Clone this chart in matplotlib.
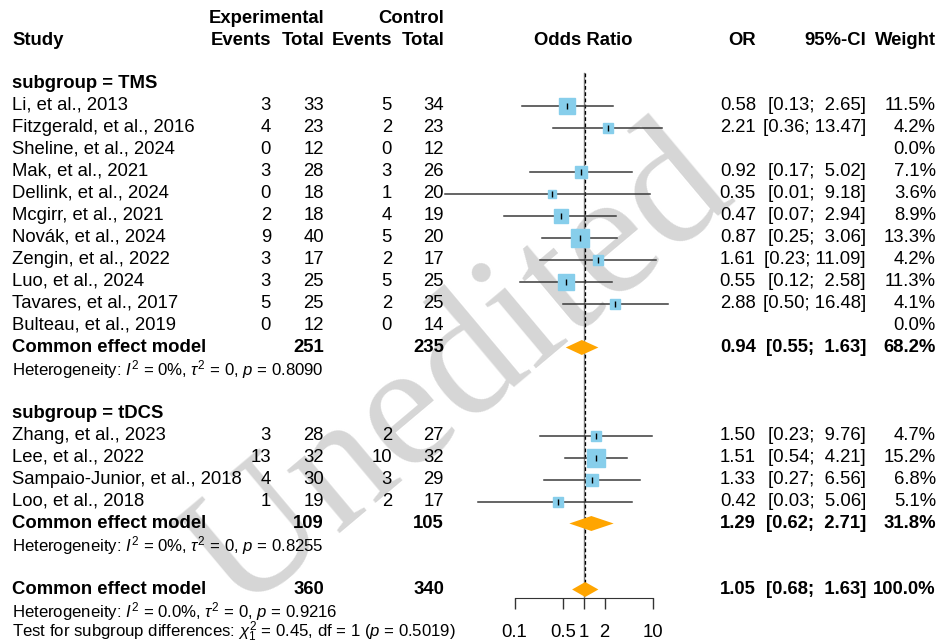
import numpy as np
import matplotlib
matplotlib.use("Agg")
import matplotlib.pyplot as plt
from matplotlib.ticker import NullLocator

plt.rcParams['font.family'] = 'Liberation Sans'
plt.rcParams['mathtext.fontset'] = 'custom'
plt.rcParams['mathtext.rm'] = 'Liberation Sans'
plt.rcParams['mathtext.it'] = 'Liberation Sans:italic'

# TMS studies
tms_study = ["Li, et al., 2013", "Fitzgerald, et al., 2016", "Sheline, et al., 2024",
             "Mak, et al., 2021", "Dellink, et al., 2024", "Mcgirr, et al., 2021",
             "Novák, et al., 2024", "Zengin, et al., 2022", "Luo, et al., 2024",
             "Tavares, et al., 2017", "Bulteau, et al., 2019"]
tms_exp_ev = [3, 4, 0, 3, 0, 2, 9, 3, 3, 5, 0]
tms_exp_n = [33, 23, 12, 28, 18, 18, 40, 17, 25, 25, 12]
tms_ctl_ev = [5, 2, 0, 3, 1, 4, 5, 2, 5, 2, 0]
tms_ctl_n = [34, 23, 12, 26, 20, 19, 20, 17, 25, 25, 14]
tms_or = [0.58, 2.21, np.nan, 0.92, 0.35, 0.47, 0.87, 1.61, 0.55, 2.88, np.nan]
tms_lo = [0.13, 0.36, np.nan, 0.17, 0.01, 0.07, 0.25, 0.23, 0.12, 0.50, np.nan]
tms_hi = [2.65, 13.47, np.nan, 5.02, 9.18, 2.94, 3.06, 11.09, 2.58, 16.48, np.nan]
tms_w = [11.5, 4.2, 0.0, 7.1, 3.6, 8.9, 13.3, 4.2, 11.3, 4.1, 0.0]

# tDCS studies
tdcs_study = ["Zhang, et al., 2023", "Lee, et al., 2022",
              "Sampaio-Junior, et al., 2018", "Loo, et al., 2018"]
tdcs_exp_ev = [3, 13, 4, 1]
tdcs_exp_n = [28, 32, 30, 19]
tdcs_ctl_ev = [2, 10, 3, 2]
tdcs_ctl_n = [27, 32, 29, 17]
tdcs_or = [1.50, 1.51, 1.33, 0.42]
tdcs_lo = [0.23, 0.54, 0.27, 0.03]
tdcs_hi = [9.76, 4.21, 6.56, 5.06]
tdcs_w = [4.7, 15.2, 6.8, 5.1]

# pooled estimates: [TMS, tDCS, overall]
pool_label = ["Common effect model"] * 3
pool_exp_n = [251, 109, 360]
pool_ctl_n = [235, 105, 340]
pool_or = [0.94, 1.29, 1.05]
pool_lo = [0.55, 0.62, 0.68]
pool_hi = [1.63, 2.71, 1.63]
pool_w = [68.2, 31.8, 100.0]

het_text = [r"Heterogeneity: $I^2$ = 0%, $\tau^2$ = 0, $p$ = 0.8090",
            r"Heterogeneity: $I^2$ = 0%, $\tau^2$ = 0, $p$ = 0.8255",
            r"Heterogeneity: $I^2$ = 0.0%, $\tau^2$ = 0, $p$ = 0.9216"]
subgroup_test = r"Test for subgroup differences: $\chi^2_1$ = 0.45, df = 1 ($p$ = 0.5019)"

ticks = [0.1, 0.5, 1, 2, 10]
tick_labels = ["0.1", "0.5", "1", "2", "10"]

FS = 13.3
FS_SMALL = 12.1
X_STUDY, X_EXP_EV, X_EXP_N, X_CTL_EV, X_CTL_N = 12, 271, 324, 392, 444
X_OR, X_CI, X_W = 756, 866, 936

fig = plt.figure(figsize=(9.39, 6.43), dpi=100)
# rows are 22 px apart, row 0 sits 83.5 px below the top
ytop, ybot = -83.5 / 22, (643 - 83.5) / 22

tax = fig.add_axes([0, 0, 1, 1])
tax.set_xlim(0, 939)
tax.set_ylim(ybot, ytop)
tax.axis("off")

fax = fig.add_axes([440 / 939, 0, 240 / 939, 1])
fax.set_xscale("log")
fax.set_xlim(10 ** ((440 - 583.7) / 69.2), 10 ** ((680 - 583.7) / 69.2))
fax.set_ylim(ybot, ytop)
fax.patch.set_alpha(0)
for s in ["top", "left", "right"]:
    fax.spines[s].set_visible(False)
fax.yaxis.set_visible(False)


def txt(x, y, s, ha="right", bold=False, size=FS):
    tax.text(x, y, s, ha=ha, va="center", fontsize=size,
             fontweight="bold" if bold else "normal")


def ci_str(lo, hi):
    return f"[{lo:.2f}; {hi:5.2f}]"


# header
txt(X_EXP_N, -2.95, "Experimental", bold=True)
txt(X_CTL_N, -2.95, "Control", bold=True)
txt(X_STUDY, -1.95, "Study", ha="left", bold=True)
for x, s in [(X_EXP_EV, "Events"), (X_EXP_N, "Total"), (X_CTL_EV, "Events"),
             (X_CTL_N, "Total"), (X_OR, "OR"), (X_CI, "95%-CI"), (X_W, "Weight")]:
    txt(x, -1.95, s, bold=True)
txt(583, -1.95, "Odds Ratio", ha="center", bold=True)


def study_rows(start, names, eev, en, cev, cn, orr, lo, hi, w):
    for i in range(len(names)):
        r = start + i
        txt(X_STUDY, r, names[i], ha="left")
        txt(X_EXP_EV, r, str(eev[i]))
        txt(X_EXP_N, r, str(en[i]))
        txt(X_CTL_EV, r, str(cev[i]))
        txt(X_CTL_N, r, str(cn[i]))
        txt(X_W, r, f"{w[i]:.1f}%")
        if np.isnan(orr[i]):
            continue
        txt(X_OR, r, f"{orr[i]:.2f}")
        txt(X_CI, r, ci_str(lo[i], hi[i]))
        fax.plot([lo[i], hi[i]], [r, r], color="#3a3a3a", lw=1.1, zorder=2)
        fax.plot(orr[i], r, marker="s", ms=3.4 * np.sqrt(w[i]), color="#87CEEB",
                 mec="#87CEEB", zorder=3)
        fax.plot(orr[i], r, marker="|", ms=5, color="black", mew=1, zorder=4)


def pooled_row(r, k):
    txt(X_STUDY, r, pool_label[k], ha="left", bold=True)
    txt(X_EXP_N, r, str(pool_exp_n[k]), bold=True)
    txt(X_CTL_N, r, str(pool_ctl_n[k]), bold=True)
    txt(X_OR, r, f"{pool_or[k]:.2f}", bold=True)
    txt(X_CI, r, ci_str(pool_lo[k], pool_hi[k]), bold=True)
    txt(X_W, r, f"{pool_w[k]:.1f}%", bold=True)
    h = 0.34
    fax.fill([pool_lo[k], pool_or[k], pool_hi[k], pool_or[k]],
             [r, r - h, r, r + h], color="#FFA500", lw=0, zorder=3)


txt(X_STUDY, 0, "subgroup = TMS", ha="left", bold=True)
study_rows(1, tms_study, tms_exp_ev, tms_exp_n, tms_ctl_ev, tms_ctl_n,
           tms_or, tms_lo, tms_hi, tms_w)
pooled_row(12, 0)
txt(X_STUDY, 13, het_text[0], ha="left", size=FS_SMALL)

txt(X_STUDY, 15, "subgroup = tDCS", ha="left", bold=True)
study_rows(16, tdcs_study, tdcs_exp_ev, tdcs_exp_n, tdcs_ctl_ev, tdcs_ctl_n,
           tdcs_or, tdcs_lo, tdcs_hi, tdcs_w)
pooled_row(20, 1)
txt(X_STUDY, 21, het_text[1], ha="left", size=FS_SMALL)

pooled_row(23, 2)
txt(X_STUDY, 24, het_text[2], ha="left", size=FS_SMALL)
txt(X_STUDY, 24.93, subgroup_test, ha="left", size=FS_SMALL)

# reference lines: no effect and overall estimate
axis_row = (597.7 - 83.5) / 22
fax.plot([1, 1], [-0.5, axis_row], color="#808080", lw=1, zorder=1)
fax.plot([pool_or[2], pool_or[2]], [-0.5, 23], color="black", lw=0.9,
         ls=(0, (3, 2)), zorder=1)

fax.spines["bottom"].set_position(("data", axis_row))
fax.spines["bottom"].set_bounds(ticks[0], ticks[-1])
fax.spines["bottom"].set_color("#333333")
fax.set_xticks(ticks)
fax.set_xticklabels(tick_labels, fontsize=FS)
fax.xaxis.set_minor_locator(NullLocator())
fax.tick_params(axis="x", direction="out", length=8, width=1, pad=11,
                color="#333333")

# watermark, kept behind the axes content
fig.text(0.49, 0.42, "Unedited", rotation=40, fontsize=128,
         family="Liberation Serif", color="#d6d6d6",
         ha="center", va="center", zorder=-1)

fig.savefig("out.png", dpi=100)
